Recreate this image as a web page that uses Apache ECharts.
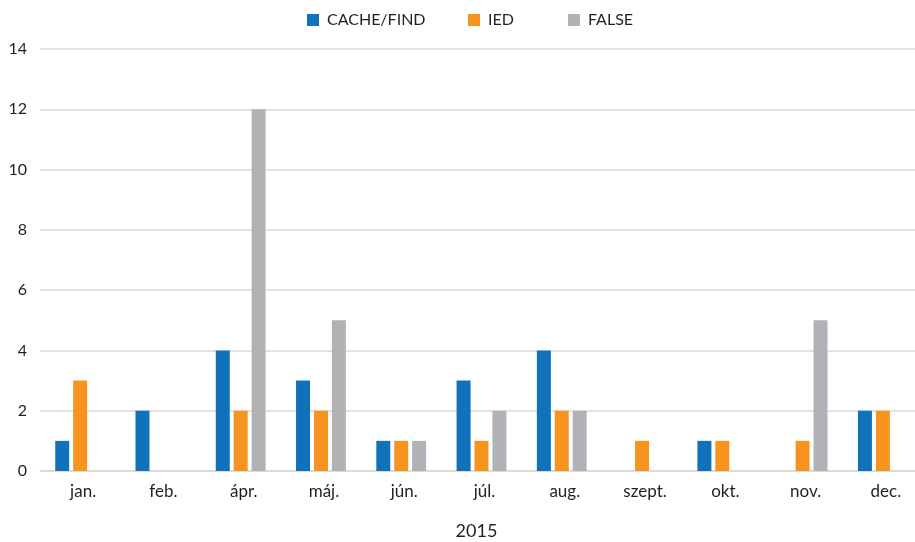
<!DOCTYPE html>
<html>
<head>
<meta charset="utf-8">
<script src="https://cdn.jsdelivr.net/npm/echarts@6/dist/echarts.min.js"></script>
<style>
  html, body { margin: 0; padding: 0; background: #fff; }
  #chart { width: 915px; height: 542px; }
</style>
</head>
<body>
<div id="chart"></div>
<script>
// months shown on the axis (no márc.)
let months = ['jan.', 'feb.', 'ápr.', 'máj.', 'jún.', 'júl.', 'aug.', 'szept.', 'okt.', 'nov.', 'dec.'];
let cacheFind = [1, 2, 4, 3, 1, 3, 4, 0, 1, 0, 2];
let ied = [3, 0, 2, 2, 1, 1, 2, 1, 1, 1, 2];
let falseAlarm = [0, 0, 12, 5, 1, 2, 2, 0, 0, 5, 0];
let seriesNames = ['CACHE/FIND', 'IED', 'FALSE'];
let yearName = '2015';

let font = 'Lato, "Open Sans", sans-serif';
let textColor = '#231f20';
let colors = ['#1172bc', '#f7941f', '#b1b2b5'];

let myChart = echarts.init(document.getElementById('chart'));

// one legend per entry, the original has uneven spacing
let legendLeft = [302, 463, 563];
let legends = seriesNames.map(function (name, i) {
    return {
        top: 7,
        left: legendLeft[i],
        itemWidth: 12,
        itemHeight: 12,
        icon: 'rect',
        textStyle: { fontFamily: font, fontSize: 16, color: textColor, padding: [0, 0, 0, 3] },
        data: [name]
    };
});

let option = {
    animation: false,
    textStyle: { fontFamily: font, color: textColor },
    legend: legends,
    grid: { left: 40, right: -8, top: 49, bottom: 71, containLabel: false, outerBoundsMode: 'none' },
    xAxis: {
        type: 'category',
        data: months,
        name: yearName,
        nameLocation: 'middle',
        nameGap: 51,
        nameTextStyle: { fontFamily: font, fontSize: 18, color: textColor, padding: [0, 10, 0, 0] },
        axisLine: { lineStyle: { color: '#d9d9d9', width: 1.5 } },
        axisTick: { show: false },
        axisLabel: { fontFamily: font, fontSize: 17, color: textColor, margin: 12, padding: [0, 0, 0, 6] }
    },
    yAxis: {
        type: 'value',
        min: 0,
        max: 14,
        interval: 2,
        axisLine: { show: false },
        axisTick: { show: false },
        axisLabel: { fontFamily: font, fontSize: 16, color: textColor, margin: 13 },
        splitLine: { lineStyle: { color: '#d9d9d9', width: 1.5 } }
    },
    series: [
        {
            name: seriesNames[0],
            type: 'bar',
            data: cacheFind,
            barWidth: 14,
            barGap: '28%',
            itemStyle: { color: colors[0] }
        },
        {
            name: seriesNames[1],
            type: 'bar',
            data: ied,
            barWidth: 14,
            barGap: '28%',
            itemStyle: { color: colors[1] }
        },
        {
            name: seriesNames[2],
            type: 'bar',
            data: falseAlarm,
            barWidth: 14,
            barGap: '28%',
            itemStyle: { color: colors[2] }
        }
    ]
};

myChart.setOption(option);
</script>
</body>
</html>
